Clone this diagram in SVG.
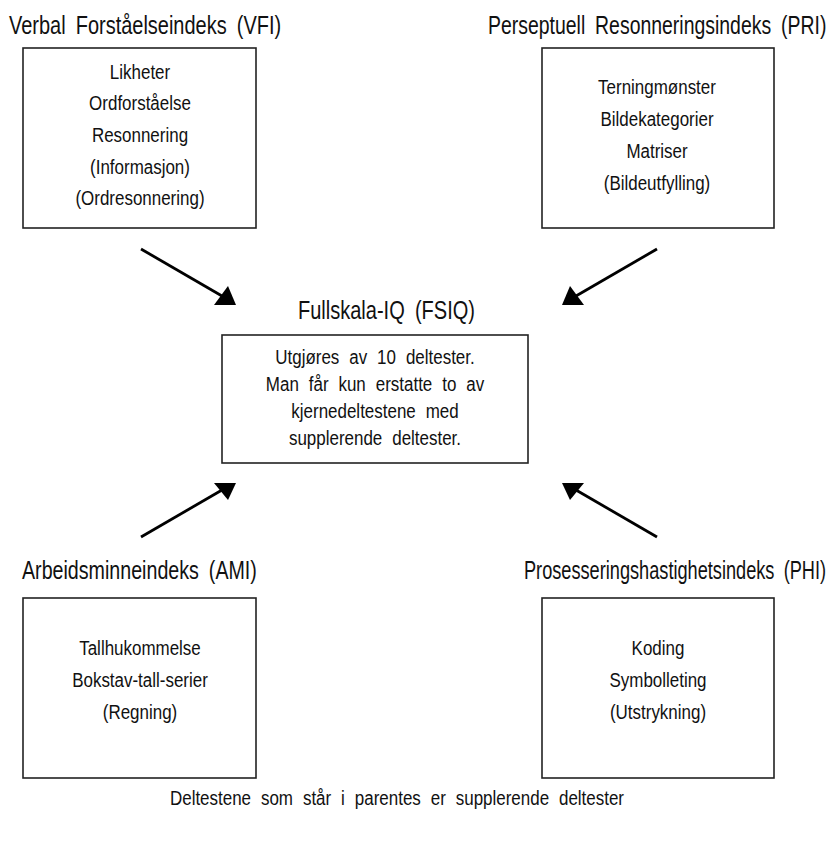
<svg xmlns="http://www.w3.org/2000/svg" width="836" height="850" viewBox="0 0 836 850">
<style>
text{font-family:"Liberation Sans Narrow","Liberation Sans",Arial,sans-serif;fill:#111}
.t{font-size:26px;word-spacing:6px}
.b{font-size:19.5px;text-anchor:middle;word-spacing:6px}
.box{fill:#fff;stroke:#222;stroke-width:1.6}
.ln{stroke:#000;stroke-width:2.8;fill:none}
.hd{fill:#000}
</style>
<rect width="836" height="850" fill="#fff"/>
<g id="vfi">
<text class="t" transform="translate(9,34) scale(0.768,1)">Verbal Forståelseindeks (VFI)</text>
<rect class="box" x="23" y="48" width="233" height="180"/>
<g transform="translate(140,0) scale(0.87,1)">
<text class="b" x="0" y="79">Likheter</text>
<text class="b" x="0" y="110">Ordforståelse</text>
<text class="b" x="0" y="142">Resonnering</text>
<text class="b" x="0" y="174">(Informasjon)</text>
<text class="b" x="0" y="205">(Ordresonnering)</text>
</g>
</g>
<g id="pri">
<text class="t" transform="translate(488,34) scale(0.748,1)">Perseptuell Resonneringsindeks (PRI)</text>
<rect class="box" x="542" y="48" width="232" height="180"/>
<g transform="translate(657,0) scale(0.87,1)">
<text class="b" x="0" y="94">Terningmønster</text>
<text class="b" x="0" y="126">Bildekategorier</text>
<text class="b" x="0" y="158">Matriser</text>
<text class="b" x="0" y="190">(Bildeutfylling)</text>
</g>
</g>
<g id="fsiq">
<text class="t" transform="translate(298,319) scale(0.770,1)">Fullskala-IQ (FSIQ)</text>
<rect class="box" x="222" y="335" width="306" height="128"/>
<g transform="translate(375,0) scale(0.87,1)">
<text class="b" x="0" y="364">Utgjøres av 10 deltester.</text>
<text class="b" x="0" y="391">Man får kun erstatte to av</text>
<text class="b" x="0" y="418">kjernedeltestene med</text>
<text class="b" x="0" y="445">supplerende deltester.</text>
</g>
</g>
<g id="ami">
<text class="t" transform="translate(22,579) scale(0.756,1)">Arbeidsminneindeks (AMI)</text>
<rect class="box" x="23" y="598" width="233" height="180"/>
<g transform="translate(140,0) scale(0.87,1)">
<text class="b" x="0" y="655">Tallhukommelse</text>
<text class="b" x="0" y="687">Bokstav-tall-serier</text>
<text class="b" x="0" y="719">(Regning)</text>
</g>
</g>
<g id="phi">
<text class="t" transform="translate(524,579) scale(0.699,1)">Prosesseringshastighetsindeks (PHI)</text>
<rect class="box" x="542" y="598" width="232" height="180"/>
<g transform="translate(658,0) scale(0.87,1)">
<text class="b" x="0" y="655">Koding</text>
<text class="b" x="0" y="687">Symbolleting</text>
<text class="b" x="0" y="719">(Utstrykning)</text>
</g>
</g>
<g id="connectors">
<line class="ln" x1="141" y1="249" x2="222" y2="296"/>
<polygon class="hd" points="228,286 214,305 236,305"/>
<line class="ln" x1="657" y1="249" x2="576" y2="296"/>
<polygon class="hd" points="570,286 584,305 562,305"/>
<line class="ln" x1="141" y1="537" x2="222" y2="490"/>
<polygon class="hd" points="214,483 236,483 228,500"/>
<line class="ln" x1="657" y1="537" x2="576" y2="490"/>
<polygon class="hd" points="584,483 562,483 570,500"/>
</g>
<g id="footer" transform="translate(397,0) scale(0.87,1)">
<text class="b" x="0" y="805">Deltestene som står i parentes er supplerende deltester</text>
</g>
</svg>
